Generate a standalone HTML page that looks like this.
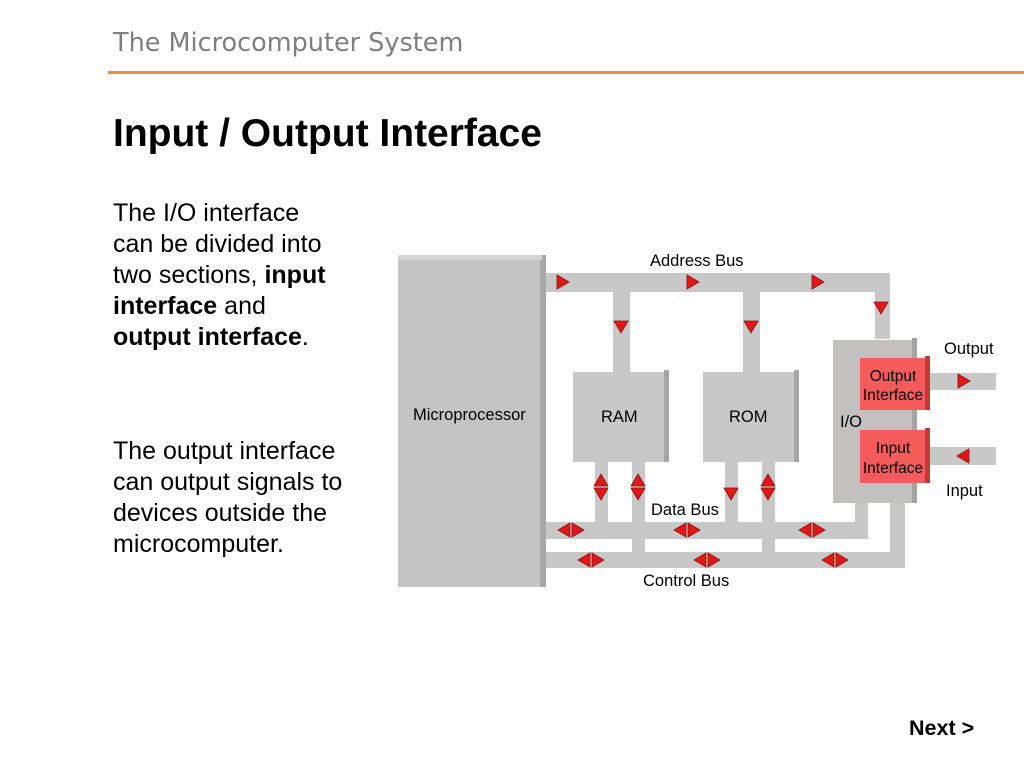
<!DOCTYPE html>
<html><head><meta charset="utf-8"><style>
body{margin:0;width:1024px;height:768px;background:#fff;position:relative;overflow:hidden;font-family:"Liberation Sans",sans-serif}
.t{position:absolute;white-space:nowrap}
</style></head><body>
<div class="t" style="left:113px;top:28px;color:#7f7f7f;font-family:'DejaVu Sans','Liberation Sans',sans-serif;font-size:25.5px">The Microcomputer System</div>
<div style="position:absolute;left:108px;top:71px;width:916px;height:3px;background:#f08a3c"></div>
<div class="t" style="left:113px;top:112px;font-size:39px;font-weight:bold;color:#000">Input / Output Interface</div>
<div class="t" style="left:113px;top:198px;font-size:25px;line-height:31px;color:#000">The I/O interface<br>can be divided into<br>two sections, <b>input</b><br><b>interface</b> and<br><b>output interface</b>.</div>
<div class="t" style="left:113px;top:436px;font-size:25px;line-height:31px;color:#000">The output interface<br>can output signals to<br>devices outside the<br>microcomputer.</div>
<div class="t" style="left:909px;top:716px;font-size:21.5px;font-weight:bold;color:#000">Next &gt;</div>

<svg width="1024" height="768" style="position:absolute;left:0;top:0" font-family="Liberation Sans, sans-serif">
<defs>
<g id="ar"><polygon points="-6,-7 6,0 -6,7" fill="#e01818" stroke="#901010" stroke-width="0.8"/></g>
</defs>
<g fill="#c8c8c8">
<rect x="545" y="273" width="345" height="19"/>
<rect x="875" y="273" width="15" height="66"/>
<rect x="613" y="292" width="17" height="80"/>
<rect x="743" y="292" width="17" height="80"/>
<rect x="545" y="522" width="87" height="17"/>
<rect x="645" y="522" width="117" height="17"/>
<rect x="775" y="522" width="93" height="17"/>
<rect x="855" y="500" width="13" height="39"/>
<rect x="545" y="552" width="360" height="16"/>
<rect x="890" y="500" width="15" height="68"/>
<rect x="595" y="460" width="13" height="62"/>
<rect x="632" y="460" width="13" height="92"/>
<rect x="725" y="460" width="13" height="62"/>
<rect x="762" y="460" width="13" height="92"/>
<rect x="928" y="373" width="68" height="17"/>
<rect x="928" y="447" width="68" height="18"/>
</g>
<rect x="398" y="258" width="147" height="329" fill="#c4c4c4"/>
<rect x="540" y="255" width="6" height="332" fill="#a8a8a8"/>
<rect x="398" y="255" width="144" height="5" fill="#d4d4d4"/>
<rect x="573" y="372" width="92" height="90" fill="#c8c8c8"/>
<rect x="664" y="370" width="5" height="92" fill="#a6a6a6"/>
<rect x="703" y="372" width="92" height="90" fill="#c8c8c8"/>
<rect x="794" y="370" width="5" height="92" fill="#a6a6a6"/>
<rect x="833" y="340" width="80" height="163" fill="#c4c0c0"/>
<rect x="912" y="338" width="5" height="165" fill="#a4a4a4"/>
<rect x="860" y="358" width="66" height="52" fill="#f55b5b"/>
<rect x="925" y="356" width="5" height="54" fill="#c43a3a"/>
<rect x="860" y="430" width="66" height="53" fill="#f55b5b"/>
<rect x="925" y="428" width="5" height="55" fill="#c43a3a"/>
<use href="#ar" transform="translate(563,282)"/>
<use href="#ar" transform="translate(693,282)"/>
<use href="#ar" transform="translate(818,282)"/>
<use href="#ar" transform="translate(881,308) rotate(90)"/>
<use href="#ar" transform="translate(621,327) rotate(90)"/>
<use href="#ar" transform="translate(751,327) rotate(90)"/>
<use href="#ar" transform="translate(964,381)"/>
<use href="#ar" transform="translate(963,456) rotate(180)"/>
<use href="#ar" transform="translate(601,480) rotate(-90)"/>
<use href="#ar" transform="translate(601,494) rotate(90)"/>
<use href="#ar" transform="translate(638,480) rotate(-90)"/>
<use href="#ar" transform="translate(638,494) rotate(90)"/>
<use href="#ar" transform="translate(731,494) rotate(90)"/>
<use href="#ar" transform="translate(768,480) rotate(-90)"/>
<use href="#ar" transform="translate(768,494) rotate(90)"/>
<use href="#ar" transform="translate(564,530) rotate(180)"/>
<use href="#ar" transform="translate(578,530)"/>
<use href="#ar" transform="translate(680,530) rotate(180)"/>
<use href="#ar" transform="translate(694,530)"/>
<use href="#ar" transform="translate(805,530) rotate(180)"/>
<use href="#ar" transform="translate(819,530)"/>
<use href="#ar" transform="translate(584,560) rotate(180)"/>
<use href="#ar" transform="translate(598,560)"/>
<use href="#ar" transform="translate(700,560) rotate(180)"/>
<use href="#ar" transform="translate(714,560)"/>
<use href="#ar" transform="translate(828,560) rotate(180)"/>
<use href="#ar" transform="translate(842,560)"/>
<g font-size="16.5" fill="#000">
<text x="650" y="266">Address Bus</text>
<text x="413" y="420">Microprocessor</text>
<text x="601" y="422">RAM</text>
<text x="729" y="422">ROM</text>
<text x="840" y="427">I/O</text>
<text x="944" y="354">Output</text>
<text x="946" y="496">Input</text>
<text x="651" y="515">Data Bus</text>
<text x="643" y="586">Control Bus</text>
</g>
<g font-size="15.5" fill="#000" text-anchor="middle">
<text x="893" y="381">Output</text>
<text x="893" y="400">Interface</text>
<text x="893" y="453">Input</text>
<text x="893" y="473">Interface</text>
</g>
</svg>
</body></html>
